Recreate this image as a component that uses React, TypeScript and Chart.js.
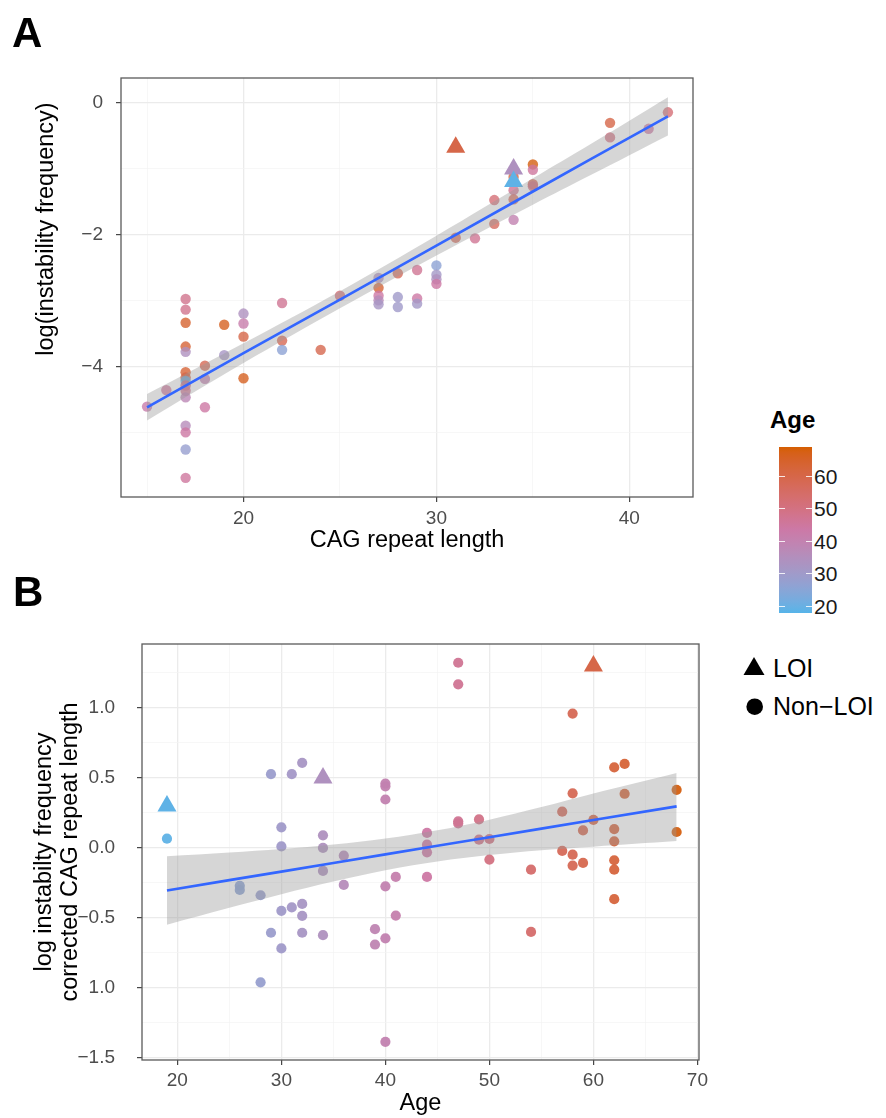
import React, { useEffect, useRef } from "react";
import { Chart, registerables } from "chart.js";
Chart.register(...registerables);

const FONT = "'Liberation Sans', Arial, Helvetica, sans-serif";

// ---------------- Panel A : CAG repeat length vs log(instability frequency) ----------------
const aCag = [15, 16, 17, 17, 17, 17, 17, 17, 17, 17, 17, 17, 17, 17, 17, 17, 17, 18, 18, 18, 19, 19, 20, 20, 20, 20, 22, 22, 22, 24, 25, 27, 27, 27, 27, 27, 28, 28, 28, 29, 29, 29, 30, 30, 30, 30, 31, 32, 33, 33, 34, 34, 34, 34, 35, 35, 35, 35, 39, 39, 41, 42];
const aLog = [-4.61, -4.36, -2.98, -3.14, -3.34, -3.7, -3.78, -4.09, -4.17, -4.22, -4.29, -4.37, -4.47, -4.9, -5.0, -5.26, -5.69, -3.99, -4.19, -4.62, -3.37, -3.83, -3.2, -3.35, -3.55, -4.18, -3.04, -3.61, -3.75, -3.75, -2.93, -2.66, -2.81, -2.93, -3.0, -3.06, -2.59, -2.95, -3.1, -2.54, -2.97, -3.05, -2.47, -2.61, -2.68, -2.75, -2.05, -2.06, -1.48, -1.84, -1.13, -1.33, -1.47, -1.78, -0.94, -1.02, -1.24, -1.27, -0.31, -0.53, -0.4, -0.15];
const aAge = [42, 45, 48, 48, 64, 63, 34, 63, 60, 20, 49, 47, 38, 36, 44, 28, 45, 58, 40, 44, 66, 32, 34, 42, 60, 66, 47, 58, 26, 59, 52, 34, 63, 44, 36, 32, 57, 30, 30, 47, 44, 31, 26, 31, 34, 44, 57, 47, 52, 56, 62, 47, 57, 40, 68, 45, 58, 50, 60, 50, 44, 52];
const aLoiCag = [31, 34, 34];
const aLoiLog = [-0.68, -1.01, -1.2];
const aLoiAge = [60, 34, 19];
const aFitX = [15, 20, 25, 30, 35, 38, 42];
const aFitY = [-4.62, -3.8, -2.99, -2.17, -1.35, -0.86, -0.21];
const aBandUpper = [-4.42, -3.65, -2.86, -2.02, -1.15, -0.63, 0.08];
const aBandLower = [-4.82, -3.95, -3.12, -2.32, -1.55, -1.1, -0.5];
const aXMajor = [20, 30, 40];
const aXMinor = [15, 25, 35];
const aXLabels = ["20", "30", "40"];
const aYMajor = [-4, -2, 0];
const aYMinor = [-5, -3, -1];
const aYLabels = ["\u22124", "\u22122", "0"];

// ---------------- Panel B : Age vs corrected instability ----------------
const bAge = [19, 26, 26, 28, 28, 29, 29, 30, 30, 30, 30, 31, 31, 32, 32, 32, 32, 34, 34, 34, 34, 36, 36, 39, 39, 40, 40, 40, 40, 40, 40, 41, 41, 44, 44, 44, 44, 47, 47, 47, 47, 49, 49, 50, 50, 54, 54, 57, 57, 58, 58, 58, 58, 59, 59, 60, 62, 62, 62, 62, 62, 62, 63, 63, 68, 68];
const bCorr = [0.066, -0.27, -0.3, -0.338, -0.96, 0.527, -0.606, 0.147, 0.011, -0.449, -0.718, 0.527, -0.425, 0.608, -0.4, -0.485, -0.606, 0.09, 0.0, -0.164, -0.623, -0.055, -0.264, -0.58, -0.69, 0.46, 0.44, 0.346, -0.274, -0.646, -1.385, -0.207, -0.483, 0.107, 0.023, -0.031, -0.207, 1.323, 1.169, 0.19, 0.175, 0.204, 0.059, 0.064, -0.083, -0.155, -0.6, 0.259, -0.021, 0.96, 0.39, -0.048, -0.126, 0.125, -0.107, 0.2, 0.575, 0.135, 0.047, -0.088, -0.155, -0.366, 0.6, 0.387, 0.415, 0.114];
const bLoiAge = [19, 34, 60];
const bLoiCorr = [0.3, 0.5, 1.3];
const bFitX = [19, 25, 30, 35, 40, 45, 50, 55, 60, 68];
const bFitY = [-0.304, -0.23, -0.169, -0.108, -0.046, 0.015, 0.076, 0.138, 0.199, 0.297];
const bBandUpper = [-0.06, -0.033, -0.008, 0.024, 0.067, 0.126, 0.202, 0.292, 0.389, 0.535];
const bBandLower = [-0.548, -0.427, -0.33, -0.24, -0.159, -0.096, -0.05, -0.016, 0.009, 0.049];
const bXMajor = [20, 30, 40, 50, 60, 70];
const bXMinor = [25, 35, 45, 55, 65];
const bXLabels = ["20", "30", "40", "50", "60", "70"];
const bYMajor = [-1.5, -1.0, -0.5, 0, 0.5, 1.0];
const bYMinor = [-1.25, -0.75, -0.25, 0.25, 0.75, 1.25];
const bYLabels = ["\u22121.5", "1.0", "\u22120.5", "0.0", "0.5", "1.0"];

// ---------------- Colour scale (Age) ----------------
const ageLimits = [18, 69];
const ageColors = ["#56B4E9", "#CC79A7", "#D55E00"];
const ageTicks = [20, 30, 40, 50, 60];

function hexToRgb(h: string) {
  return [parseInt(h.slice(1, 3), 16), parseInt(h.slice(3, 5), 16), parseInt(h.slice(5, 7), 16)];
}
function toLin(c: number) {
  c /= 255;
  return c <= 0.04045 ? c / 12.92 : Math.pow((c + 0.055) / 1.055, 2.4);
}
function fromLin(c: number) {
  const v = c <= 0.0031308 ? 12.92 * c : 1.055 * Math.pow(c, 1 / 2.4) - 0.055;
  return Math.round(Math.max(0, Math.min(1, v)) * 255);
}
function rgbToLab(rgb: number[]) {
  const R = toLin(rgb[0]), G = toLin(rgb[1]), B = toLin(rgb[2]);
  const X = (0.4124 * R + 0.3576 * G + 0.1805 * B) / 0.95047;
  const Y = 0.2126 * R + 0.7152 * G + 0.0722 * B;
  const Z = (0.0193 * R + 0.1192 * G + 0.9505 * B) / 1.08883;
  const f = (t: number) => (t > 0.008856 ? Math.cbrt(t) : 7.787 * t + 16 / 116);
  const fx = f(X), fy = f(Y), fz = f(Z);
  return [116 * fy - 16, 500 * (fx - fy), 200 * (fy - fz)];
}
function labToRgb(lab: number[]) {
  const fy = (lab[0] + 16) / 116, fx = fy + lab[1] / 500, fz = fy - lab[2] / 200;
  const inv = (t: number) => (t * t * t > 0.008856 ? t * t * t : (t - 16 / 116) / 7.787);
  const X = inv(fx) * 0.95047, Y = inv(fy), Z = inv(fz) * 1.08883;
  return [
    fromLin(3.2406 * X - 1.5372 * Y - 0.4986 * Z),
    fromLin(-0.9689 * X + 1.8758 * Y + 0.0415 * Z),
    fromLin(0.0557 * X - 0.204 * Y + 1.057 * Z),
  ];
}
const labStops = ageColors.map((c) => rgbToLab(hexToRgb(c)));
function ageColor(age: number, alpha = 1) {
  let t = (age - ageLimits[0]) / (ageLimits[1] - ageLimits[0]);
  t = Math.max(0, Math.min(1, t));
  const seg = t < 0.5 ? 0 : 1;
  const u = t < 0.5 ? t / 0.5 : (t - 0.5) / 0.5;
  const a = labStops[seg], b = labStops[seg + 1];
  const rgb = labToRgb([a[0] + (b[0] - a[0]) * u, a[1] + (b[1] - a[1]) * u, a[2] + (b[2] - a[2]) * u]);
  return `rgba(${rgb[0]},${rgb[1]},${rgb[2]},${alpha})`;
}

// ---------------- Chart helpers ----------------
function axisScale(p: any) {
  const majorSet = new Set<number>(p.major);
  const labelMap = new Map<number, string>(p.major.map((v: number, i: number) => [v, p.labels[i]]));
  const isMajor = (c: any) => c && c.tick && majorSet.has(c.tick.value);
  return {
    type: "linear",
    min: p.min,
    max: p.max,
    afterBuildTicks: (s: any) => {
      s.ticks = [...p.major, ...p.minor].sort((x: number, y: number) => x - y).map((v: number) => ({ value: v }));
    },
    afterFit: (s: any) => {
      if (p.horizontal) s.height = p.fit;
      else s.width = p.fit;
    },
    border: { display: false },
    grid: {
      color: (c: any) => (isMajor(c) ? "#EBEBEB" : "#F3F3F3"),
      lineWidth: (c: any) => (isMajor(c) ? 1.3 : 0.7),
      drawTicks: true,
      tickLength: 5,
      tickColor: (c: any) => (isMajor(c) ? "#333333" : "rgba(0,0,0,0)"),
      tickWidth: 1.1,
    },
    ticks: {
      autoSkip: false,
      maxRotation: 0,
      minRotation: 0,
      padding: p.labelPad,
      color: "#4D4D4D",
      font: { family: FONT, size: 19 },
      callback: (v: any) => labelMap.get(v) ?? "",
    },
    title: p.title ?? { display: false },
  };
}

const boxPlugin = {
  id: "panelBox",
  afterDraw(chart: any) {
    const { ctx, chartArea } = chart;
    ctx.save();
    ctx.strokeStyle = "#5a5a5a";
    ctx.lineWidth = 1.3;
    ctx.strokeRect(chartArea.left, chartArea.top, chartArea.right - chartArea.left, chartArea.bottom - chartArea.top);
    ctx.restore();
  },
};

function pts(xs: number[], ys: number[]) {
  return xs.map((x, i) => ({ x, y: ys[i] }));
}

function smoothDatasets(fx: number[], fy: number[], up: number[], lo: number[]) {
  return [
    {
      type: "line",
      data: pts(fx, fy),
      borderColor: "#3366FF",
      borderWidth: 2.6,
      pointRadius: 0,
      fill: false,
    },
    {
      type: "line",
      data: pts(fx, up),
      borderColor: "rgba(0,0,0,0)",
      borderWidth: 0,
      pointRadius: 0,
      tension: 0.35,
      fill: "+1",
      backgroundColor: "rgba(153,153,153,0.4)",
    },
    {
      type: "line",
      data: pts(fx, lo),
      borderColor: "rgba(0,0,0,0)",
      borderWidth: 0,
      pointRadius: 0,
      tension: 0.35,
      fill: false,
    },
  ];
}

function cfgA(): any {
  return {
    type: "scatter",
    data: {
      datasets: [
        ...smoothDatasets(aFitX, aFitY, aBandUpper, aBandLower),
        {
          data: pts(aLoiCag, aLoiLog),
          pointStyle: "triangle",
          pointRadius: 11,
          borderWidth: 0,
          backgroundColor: aLoiAge.map((a) => ageColor(a, 1)),
        },
        {
          data: pts(aCag, aLog),
          pointStyle: "circle",
          pointRadius: 5.2,
          borderWidth: 0,
          backgroundColor: aAge.map((a) => ageColor(a, 0.8)),
        },
      ],
    },
    options: {
      responsive: false,
      maintainAspectRatio: false,
      animation: false,
      events: [],
      layout: { padding: { left: 0, top: 78, right: 27, bottom: 0 } },
      plugins: { legend: { display: false }, tooltip: { enabled: false } },
      scales: {
        x: axisScale({
          min: 13.65, max: 43.3, major: aXMajor, minor: aXMinor, labels: aXLabels,
          fit: 73, horizontal: true, labelPad: 5,
          title: { display: true, text: "CAG repeat length", color: "#000", font: { family: FONT, size: 23.5 }, padding: { top: 0, bottom: 15 } },
        }),
        y: axisScale({
          min: -5.98, max: 0.37, major: aYMajor, minor: aYMinor, labels: aYLabels,
          fit: 121, horizontal: false, labelPad: 13,
        }),
      },
    },
    plugins: [boxPlugin],
  };
}

function cfgB(): any {
  return {
    type: "scatter",
    data: {
      datasets: [
        ...smoothDatasets(bFitX, bFitY, bBandUpper, bBandLower),
        {
          data: pts(bLoiAge, bLoiCorr),
          pointStyle: "triangle",
          pointRadius: 11,
          borderWidth: 0,
          backgroundColor: bLoiAge.map((a) => ageColor(a, 1)),
        },
        {
          data: pts(bAge, bCorr),
          pointStyle: "circle",
          pointRadius: 5.1,
          borderWidth: 0,
          backgroundColor: bAge.map((a) => ageColor(a, 0.95)),
        },
      ],
    },
    options: {
      responsive: false,
      maintainAspectRatio: false,
      animation: false,
      events: [],
      layout: { padding: { left: 0, top: 74, right: 21, bottom: 0 } },
      plugins: { legend: { display: false }, tooltip: { enabled: false } },
      scales: {
        x: axisScale({
          min: 16.6, max: 70.15, major: bXMajor, minor: bXMinor, labels: bXLabels,
          fit: 58, horizontal: true, labelPad: 4,
          title: { display: true, text: "Age", color: "#000", font: { family: FONT, size: 23.5 }, padding: { top: 0, bottom: 0 } },
        }),
        y: axisScale({
          min: -1.515, max: 1.457, major: bYMajor, minor: bYMinor, labels: bYLabels,
          fit: 142, horizontal: false, labelPad: 22,
          title: {
            display: true,
            text: ["log instabilty frequency", "corrected CAG repeat length"],
            color: "#000",
            font: { family: FONT, size: 23.5, lineHeight: 1.11 },
            padding: { top: 31, bottom: 0 },
          },
        }),
      },
    },
    plugins: [boxPlugin],
  };
}

// colour-bar geometry
const barTop = 447;
const barBottom = 613;
function barY(age: number) {
  return barBottom - ((age - ageLimits[0]) / (ageLimits[1] - ageLimits[0])) * (barBottom - barTop);
}
function barGradient() {
  const stops: string[] = [];
  const n = 30;
  for (let i = 0; i <= n; i++) {
    const age = ageLimits[0] + ((ageLimits[1] - ageLimits[0]) * i) / n;
    stops.push(`${ageColor(age, 1)} ${((i / n) * 100).toFixed(2)}%`);
  }
  return `linear-gradient(to top, ${stops.join(", ")})`;
}

export default function App() {
  const refA = useRef<HTMLCanvasElement>(null);
  const refB = useRef<HTMLCanvasElement>(null);
  useEffect(() => {
    const ca = new Chart(refA.current as HTMLCanvasElement, cfgA());
    const cb = new Chart(refB.current as HTMLCanvasElement, cfgB());
    return () => {
      ca.destroy();
      cb.destroy();
    };
  }, []);

  const abs = (o: any): any => ({ position: "absolute", whiteSpace: "nowrap", ...o });

  return (
    <div style={{ position: "absolute", left: 0, top: 0, width: 886, height: 1118, background: "#fff", overflow: "hidden", fontFamily: FONT }}>
      <canvas ref={refA} width={720} height={570} style={abs({ left: 0, top: 0, width: 720, height: 570 })} />
      <canvas ref={refB} width={720} height={548} style={abs({ left: 0, top: 570, width: 720, height: 548 })} />

      <div style={abs({ left: 12, top: 12, fontSize: 42, lineHeight: "42px", fontWeight: 700, color: "#000" })}>A</div>
      <div style={abs({ left: 13, top: 571, fontSize: 42, lineHeight: "42px", fontWeight: 700, color: "#000" })}>B</div>

      <div
        style={abs({
          left: 45, top: 229, fontSize: 23.5, lineHeight: "24px", color: "#000",
          transform: "translate(-50%, -50%) rotate(-90deg)",
        })}
      >
        log(instability frequency)
      </div>

      {/* colour legend */}
      <div style={abs({ left: 770, top: 408, fontSize: 24, lineHeight: "24px", fontWeight: 700, color: "#000" })}>Age</div>
      <div style={abs({ left: 779, top: barTop, width: 33, height: barBottom - barTop, background: barGradient() })} />
      {ageTicks.map((t) => (
        <React.Fragment key={t}>
          <div style={abs({ left: 779, top: barY(t) - 0.5, width: 6, height: 1, background: "rgba(255,255,255,0.85)" })} />
          <div style={abs({ left: 806, top: barY(t) - 0.5, width: 6, height: 1, background: "rgba(255,255,255,0.85)" })} />
          <div style={abs({ left: 814, top: barY(t) - 10.5, fontSize: 21, lineHeight: "21px", color: "#1a1a1a" })}>{t}</div>
        </React.Fragment>
      ))}

      {/* shape legend */}
      <svg style={abs({ left: 740, top: 650 })} width={30} height={70}>
        <polygon points="14,7 3.5,25 24.5,25" fill="#000" />
        <circle cx={14.7} cy={56.7} r={8.3} fill="#000" />
      </svg>
      <div style={abs({ left: 773, top: 655.5, fontSize: 25, lineHeight: "25px", color: "#000" })}>LOI</div>
      <div style={abs({ left: 773, top: 694, fontSize: 25, lineHeight: "25px", color: "#000" })}>Non{"\u2212"}LOI</div>
    </div>
  );
}
